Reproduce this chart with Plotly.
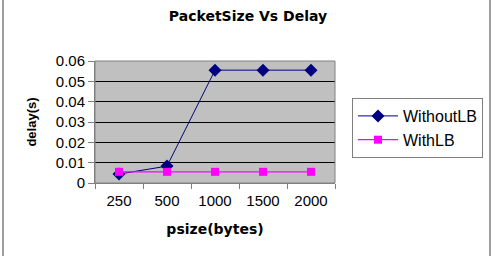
import plotly.graph_objects as go

categories = ["250", "500", "1000", "1500", "2000"]
without_lb = [0.0044, 0.0083, 0.0555, 0.0555, 0.0555]
with_lb = [0.0055, 0.0055, 0.0055, 0.0055, 0.0055]
y_ticks = [0, 0.01, 0.02, 0.03, 0.04, 0.05, 0.06]
y_tick_labels = ["0", "0.01", "0.02", "0.03", "0.04", "0.05", "0.06"]

W, H = 495, 256
L, R, T, B = 95, 160, 61, 73
pw, ph = W - L - R, H - T - B

fig = go.Figure()
fig.add_trace(go.Scatter(
    x=categories, y=without_lb, name="WithoutLB", mode="lines+markers",
    line=dict(color="#000080", width=1),
    marker=dict(symbol="diamond", size=10, color="#000080"),
))
fig.add_trace(go.Scatter(
    x=categories, y=with_lb, name="WithLB", mode="lines+markers",
    line=dict(color="#ff00ff", width=1.2),
    marker=dict(symbol="square", size=8, color="#ff00ff"),
))

font = "Arial, Liberation Sans, sans-serif"
wide = "DejaVu Sans, sans-serif"
fig.update_layout(
    width=W, height=H, autosize=False,
    margin=dict(l=L, r=R, t=T, b=B),
    paper_bgcolor="white", plot_bgcolor="#c0c0c0",
    font=dict(family=font, size=15, color="black"),
    title=dict(text="<b>PacketSize Vs Delay</b>", x=248 / W, xanchor="center",
               y=1 - 16 / H, yanchor="middle", font=dict(size=14, family=wide)),
    showlegend=True,
    legend=dict(x=(352 - L) / pw, y=(T + ph - 98) / ph, xanchor="left", yanchor="top",
                bordercolor="#808080", borderwidth=1, bgcolor="white",
                font=dict(size=16), itemwidth=40),
    xaxis=dict(type="category", tickson="boundaries", ticks="outside", ticklen=5,
               tickcolor="#808080", showline=True, linecolor="#808080", linewidth=1,
               showgrid=False, range=[-0.5, 4.5], ticklabelstandoff=4,
               title=dict(text="<b>psize(bytes)</b>", font=dict(size=14, family=wide), standoff=16),
               tickfont=dict(size=15)),
    yaxis=dict(range=[0, 0.06], tickvals=y_ticks, ticktext=y_tick_labels,
               ticks="outside", ticklen=6, tickcolor="#808080",
               showline=True, linecolor="#808080", linewidth=1,
               showgrid=True, gridcolor="#000000", gridwidth=1, zeroline=False,
               title=dict(text="<b>delay(s)</b>", font=dict(size=13), standoff=16),
               tickfont=dict(size=15)),
    shapes=[
        dict(type="rect", xref="paper", yref="paper",
             x0=(3 - L) / pw, x1=(490 - L) / pw,
             y0=(T + ph - 258) / ph, y1=(T + ph + 2) / ph,
             line=dict(color="#808080", width=1.5), fillcolor="rgba(0,0,0,0)", layer="below"),
        dict(type="rect", xref="paper", yref="paper", x0=0, x1=1, y0=0, y1=1,
             line=dict(color="#808080", width=1), fillcolor="rgba(0,0,0,0)"),
    ],
)

fig.write_html("out.html")
